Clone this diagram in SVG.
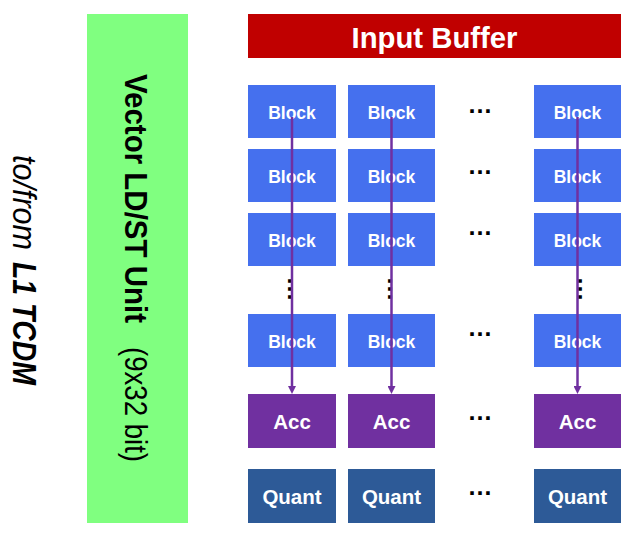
<svg xmlns="http://www.w3.org/2000/svg" width="635" height="539" viewBox="0 0 635 539">
<style>
.blk{fill:#4570EE}
.acc{fill:#7030A0}
.qnt{fill:#2D5A97}
.bt{font-family:"Liberation Sans",Arial,sans-serif;font-weight:bold;fill:#fff;text-anchor:middle}
.dots{font-family:"Liberation Sans",Arial,sans-serif;font-size:25px;font-weight:bold;fill:#000;text-anchor:middle}
.conn{stroke:#7030A0;stroke-width:2.5;fill:none}
</style>
<defs>
<marker id="ah" viewBox="0 0 8 8" markerWidth="8" markerHeight="8" markerUnits="userSpaceOnUse" refX="2" refY="4" orient="auto">
<path d="M0,0 L8,4 L0,8 z" fill="#7030A0"/>
</marker>
</defs>
<rect width="635" height="539" fill="#fff"/>

<g id="tcdm-label">
<text transform="translate(13,155) rotate(90)" font-family="Liberation Sans,Arial,sans-serif" font-style="italic" font-size="33" textLength="95" lengthAdjust="spacingAndGlyphs">to/from</text>
<text transform="translate(13,262) rotate(90)" font-family="Liberation Sans,Arial,sans-serif" font-style="italic" font-weight="bold" font-size="33" textLength="123" lengthAdjust="spacingAndGlyphs">L1 TCDM</text>
</g>

<g id="ldst-unit">
<rect x="87" y="14" width="101" height="509" fill="#80FF80"/>
<text transform="translate(125,74) rotate(90)" font-family="Liberation Sans,Arial,sans-serif" font-weight="bold" font-size="32" textLength="249" lengthAdjust="spacingAndGlyphs">Vector LD/ST Unit</text>
<text transform="translate(125,347) rotate(90)" font-family="Liberation Sans,Arial,sans-serif" font-size="32" textLength="115" lengthAdjust="spacingAndGlyphs">(9x32 bit)</text>
</g>

<g id="input-buffer">
<rect x="248" y="14" width="373" height="44" fill="#C00000"/>
<text class="bt" x="434.5" y="48" font-size="30" textLength="166" lengthAdjust="spacingAndGlyphs">Input Buffer</text>
</g>

<g id="col1">
<g id="block-1-1"><rect class="blk" x="248" y="85" width="88" height="53"/><text class="bt" x="292" y="118.5" font-size="17.5">Block</text></g>
<g id="block-1-2"><rect class="blk" x="248" y="149" width="88" height="53"/><text class="bt" x="292" y="182.5" font-size="17.5">Block</text></g>
<g id="block-1-3"><rect class="blk" x="248" y="213" width="88" height="53"/><text class="bt" x="292" y="246.5" font-size="17.5">Block</text></g>
<g id="block-1-n"><rect class="blk" x="248" y="314" width="88" height="53"/><text class="bt" x="292" y="348" font-size="17.5">Block</text></g>
<g id="acc-1"><rect class="acc" x="248" y="394" width="88" height="54"/><text class="bt" x="292" y="428.5" font-size="20.5">Acc</text></g>
<g id="quant-1"><rect class="qnt" x="248" y="469" width="88" height="54"/><text class="bt" x="292" y="503.5" font-size="20.5">Quant</text></g>
</g>

<g id="col2">
<g id="block-2-1"><rect class="blk" x="348" y="85" width="87" height="53"/><text class="bt" x="391.5" y="118.5" font-size="17.5">Block</text></g>
<g id="block-2-2"><rect class="blk" x="348" y="149" width="87" height="53"/><text class="bt" x="391.5" y="182.5" font-size="17.5">Block</text></g>
<g id="block-2-3"><rect class="blk" x="348" y="213" width="87" height="53"/><text class="bt" x="391.5" y="246.5" font-size="17.5">Block</text></g>
<g id="block-2-n"><rect class="blk" x="348" y="314" width="87" height="53"/><text class="bt" x="391.5" y="348" font-size="17.5">Block</text></g>
<g id="acc-2"><rect class="acc" x="348" y="394" width="87" height="54"/><text class="bt" x="391.5" y="428.5" font-size="20.5">Acc</text></g>
<g id="quant-2"><rect class="qnt" x="348" y="469" width="87" height="54"/><text class="bt" x="391.5" y="503.5" font-size="20.5">Quant</text></g>
</g>

<g id="col3">
<g id="block-3-1"><rect class="blk" x="534" y="85" width="87" height="53"/><text class="bt" x="577.5" y="118.5" font-size="17.5">Block</text></g>
<g id="block-3-2"><rect class="blk" x="534" y="149" width="87" height="53"/><text class="bt" x="577.5" y="182.5" font-size="17.5">Block</text></g>
<g id="block-3-3"><rect class="blk" x="534" y="213" width="87" height="53"/><text class="bt" x="577.5" y="246.5" font-size="17.5">Block</text></g>
<g id="block-3-n"><rect class="blk" x="534" y="314" width="87" height="53"/><text class="bt" x="577.5" y="348" font-size="17.5">Block</text></g>
<g id="acc-3"><rect class="acc" x="534" y="394" width="87" height="54"/><text class="bt" x="577.5" y="428.5" font-size="20.5">Acc</text></g>
<g id="quant-3"><rect class="qnt" x="534" y="469" width="87" height="54"/><text class="bt" x="577.5" y="503.5" font-size="20.5">Quant</text></g>
</g>

<g id="ellipses">
<text class="dots" x="480" y="112.7">…</text>
<text class="dots" x="480" y="174.4">…</text>
<text class="dots" x="480" y="235">…</text>
<text class="dots" x="480" y="335.7">…</text>
<text class="dots" x="480" y="419.7">…</text>
<text class="dots" x="480" y="494.7">…</text>
<text class="dots" transform="translate(287.6,289) rotate(90)">…</text>
<text class="dots" transform="translate(387.6,289) rotate(90)">…</text>
<text class="dots" transform="translate(578.3,289) rotate(90)">…</text>
</g>

<g id="connectors">
<line class="conn" x1="292" y1="117" x2="292" y2="388" marker-end="url(#ah)"/>
<line class="conn" x1="391.5" y1="117" x2="391.5" y2="388" marker-end="url(#ah)"/>
<line class="conn" x1="577.5" y1="117" x2="577.5" y2="388" marker-end="url(#ah)"/>
</g>
</svg>
